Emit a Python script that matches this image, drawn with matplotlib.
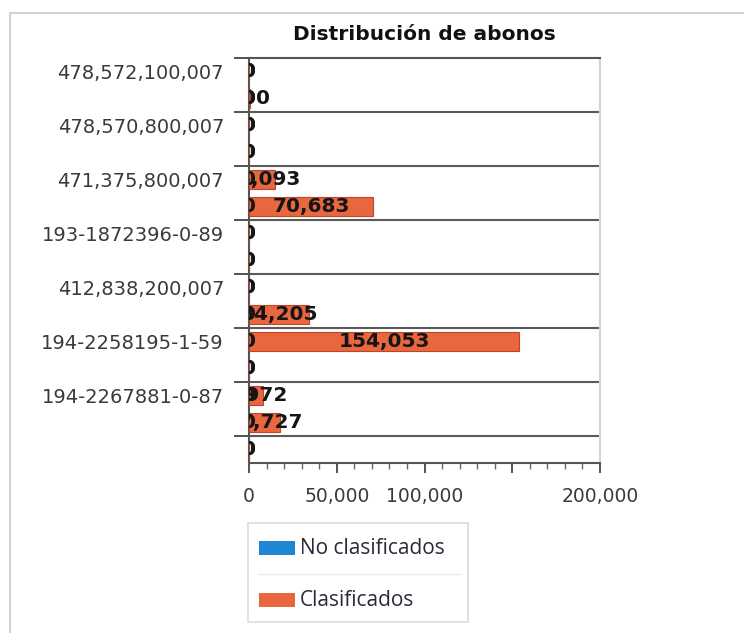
import numpy as np
import matplotlib
matplotlib.use("Agg")
import matplotlib.pyplot as plt
from matplotlib.patches import Rectangle
from matplotlib.lines import Line2D
from matplotlib.ticker import MultipleLocator, FixedLocator

# one row per bar slot; only every second row carries a visible label
categories = ["478,572,100,007", "", "478,570,800,007", "", "471,375,800,007", "",
              "193-1872396-0-89", "", "412,838,200,007", "", "194-2258195-1-59", "",
              "194-2267881-0-87", "", ""]
no_clasificados = [0, 0, 0, 0, 0, 0, 0, 0, 0, 0, 0, 0, 0, 0, 0]
clasificados = [0, 500, 0, 0, 15093, 70683, 0, 0, 0, 34205, 154053, 0, 7972, 17727, 0]
series_names = ["No clasificados", "Clasificados"]
x_ticks = [0, 50000, 100000, 150000, 200000]
x_ticklabels = ["0", "50,000", "100,000", "", "200,000"]

blue = "#1f86d6"
orange = "#e9673f"
W, H = 744, 633

fig = plt.figure(figsize=(W / 100, H / 100), dpi=100)
ax = fig.add_axes([249 / W, 1 - 463 / H, 351 / W, 405 / H])

y = np.arange(len(categories))
ax.barh(y, no_clasificados, height=0.7, color=blue, edgecolor="#1565a8", lw=0.8, zorder=3)
ax.barh(y, clasificados, height=0.7, color=orange, edgecolor="#b9472a", lw=0.8, zorder=4)

for yi, v in zip(y, no_clasificados):
    ax.text(v / 2, yi, f"{v:,}", ha="center", va="center", fontsize=14.5, fontweight="bold",
            color="#151515", clip_on=True, zorder=5)
for yi, v in zip(y, clasificados):
    ax.text(v / 2, yi, f"{v:,}", ha="center", va="center", fontsize=14.5, fontweight="bold",
            color="#151515", clip_on=True, zorder=6)

ax.set_xlim(0, 200000)
ax.set_ylim(len(categories) - 0.5, -0.5)

# x axis
ax.set_xticks(x_ticks)
ax.set_xticklabels(x_ticklabels)
ax.xaxis.set_minor_locator(MultipleLocator(10000))
ax.tick_params(axis="x", which="major", length=7, width=1.3, color="#444", pad=10,
               labelsize=13.5, labelcolor="#3a3a3a")
ax.tick_params(axis="x", which="minor", length=4, width=1, color="#666")

# y axis: band boundaries as major ticks, labels on every second row
bounds = np.arange(-0.5, len(categories) - 1, 2)
ax.yaxis.set_major_locator(FixedLocator(bounds))
ax.yaxis.set_major_formatter(plt.NullFormatter())
label_rows = y[::2]
ax.yaxis.set_minor_locator(FixedLocator(label_rows))
ax.set_yticklabels([categories[i] for i in label_rows], minor=True)
ax.tick_params(axis="y", which="major", length=11, width=1.3, color="#444")
ax.tick_params(axis="y", which="minor", length=0, pad=18, labelsize=14, labelcolor="#3a3a3a")

for b in bounds[1:]:
    ax.axhline(b, color="#5a5a5a", lw=1.5, zorder=2)

for s in ["left", "bottom", "top"]:
    ax.spines[s].set_color("#555")
    ax.spines[s].set_linewidth(1.5)
ax.spines["right"].set_color("#d4d4d4")
ax.spines["right"].set_linewidth(1.5)

fig.text(424 / W, 1 - 35 / H, "Distribución de abonos", ha="center", va="center",
         fontsize=14.5, fontweight="bold", color="#111")

# outer frame (left and top edges)
fig.add_artist(Line2D([9.5 / W, 9.5 / W], [0, 1 - 12.5 / H], transform=fig.transFigure,
                      color="#d2d2d2", lw=1.5))
fig.add_artist(Line2D([9.5 / W, 1], [1 - 12.5 / H, 1 - 12.5 / H], transform=fig.transFigure,
                      color="#d2d2d2", lw=1.5))

# legend
fig.add_artist(Rectangle((248 / W, 1 - 622 / H), 220 / W, 99 / H, transform=fig.transFigure,
                         facecolor="white", edgecolor="#dcdcdc", lw=1.2))
fig.add_artist(Line2D([258 / W, 460 / W], [1 - 574 / H, 1 - 574 / H], transform=fig.transFigure,
                      color="#ececec", lw=1))
for name, col, yc in zip(series_names, [blue, orange], [548, 600]):
    fig.add_artist(Rectangle((259 / W, 1 - (yc + 7) / H), 36 / W, 14 / H,
                             transform=fig.transFigure, facecolor=col, edgecolor="none"))
    fig.text(300 / W, 1 - yc / H, name, ha="left", va="center", fontsize=15,
             family="Open Sans", color="#2a2a3a")

fig.savefig("out.png", dpi=100)
